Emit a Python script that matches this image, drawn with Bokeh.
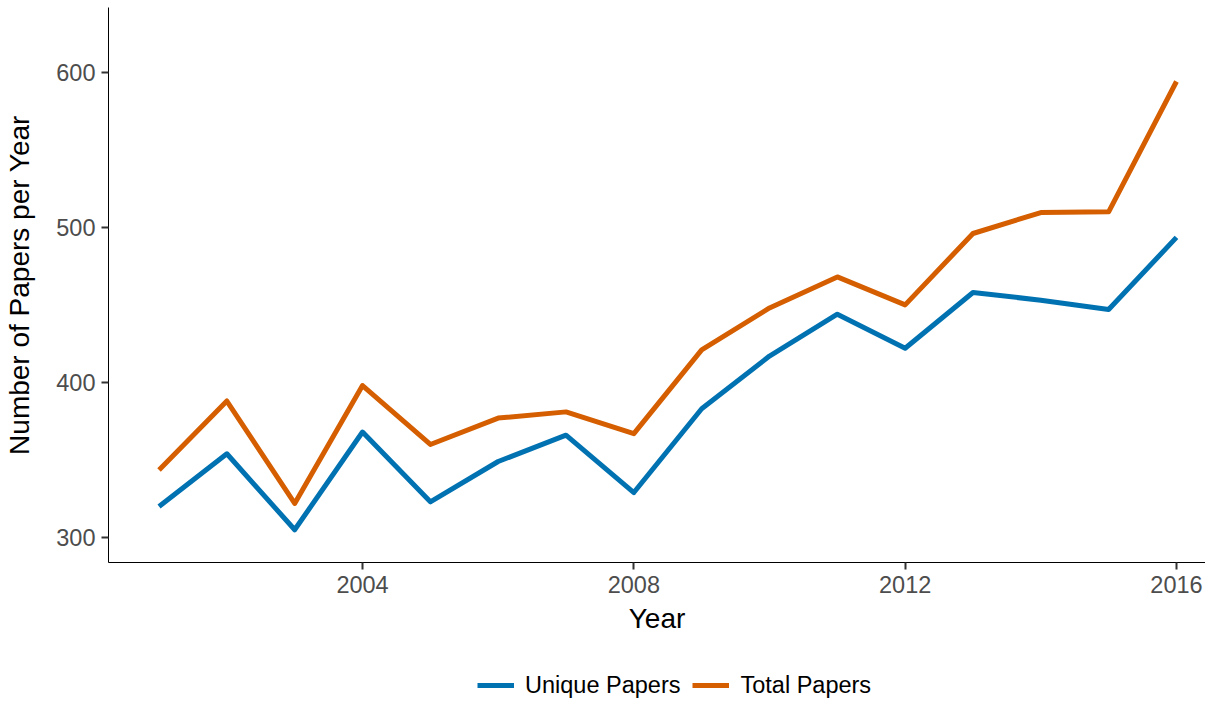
from bokeh.plotting import figure
from bokeh.layouts import column
from bokeh.models import Legend, LegendItem, FixedTicker, Range1d
from bokeh.embed import file_html
from bokeh.resources import INLINE

# ---- data ----
years = [2001, 2002, 2003, 2004, 2005, 2006, 2007, 2008,
         2009, 2010, 2011, 2012, 2013, 2014, 2015, 2016]
unique_papers = [320, 354, 305, 368, 323, 349, 366, 329,
                 383, 417, 444, 422, 458, 453, 447, 493.5]
total_papers = [343.5, 388, 322, 398, 360, 377, 381, 367,
                421, 448, 468, 450, 496, 509.5, 510, 594]
x_ticks = [2004, 2008, 2012, 2016]
y_ticks = [300, 400, 500, 600]
series_labels = ["Unique Papers", "Total Papers"]
series_colors = ["#0072B2", "#D55E00"]

FONT = "Liberation Sans"

# ---- main chart ----
p = figure(width=1205, height=640, output_backend="svg", toolbar_location=None,
           x_range=Range1d(2000.255, 2016.428), y_range=Range1d(283.9, 641.7),
           min_border_left=108, min_border_right=0, min_border_top=7,
           min_border_bottom=78, background_fill_color="white",
           border_fill_color="white")
p.outline_line_color = None
p.xgrid.visible = False
p.ygrid.visible = False

p.line(years, unique_papers, line_color=series_colors[0], line_width=5,
       line_join="round")
p.line(years, total_papers, line_color=series_colors[1], line_width=5,
       line_join="round")

p.xaxis.ticker = FixedTicker(ticks=x_ticks)
p.yaxis.ticker = FixedTicker(ticks=y_ticks)
p.xaxis.axis_label = "Year"
p.yaxis.axis_label = "Number of Papers per Year"

for ax in (p.xaxis[0], p.yaxis[0]):
    ax.axis_line_color = "black"
    ax.axis_line_width = 1
    ax.major_tick_line_color = "#333333"
    ax.major_tick_line_width = 2
    ax.major_tick_out = 7
    ax.major_tick_in = 0
    ax.minor_tick_line_color = None
    ax.major_label_text_font = FONT
    ax.major_label_text_font_size = "23.5px"
    ax.major_label_text_color = "#4D4D4D"
    ax.axis_label_text_font = FONT
    ax.axis_label_text_font_size = "28px"
    ax.axis_label_text_color = "black"
    ax.axis_label_text_font_style = "normal"

p.xaxis.major_label_standoff = 6
p.xaxis.axis_label_standoff = 7
p.yaxis.major_label_standoff = 6
p.yaxis.axis_label_standoff = 18

# ---- legend strip below the chart ----
# (the key lines reuse the series data; the strip's ranges keep them out of view)
lg = figure(width=1205, height=59, output_backend="svg", toolbar_location=None,
            x_range=Range1d(0, 1), y_range=Range1d(0, 1),
            x_axis_location=None, y_axis_location=None,
            min_border_left=0, min_border_right=0, min_border_top=0,
            min_border_bottom=0, background_fill_color="white",
            border_fill_color="white")
lg.outline_line_color = None
lg.xgrid.visible = False
lg.ygrid.visible = False
k1 = lg.line(years, unique_papers, line_color=series_colors[0], line_width=5)
k2 = lg.line(years, total_papers, line_color=series_colors[1], line_width=5)

legend = Legend(items=[LegendItem(label=series_labels[0], renderers=[k1]),
                       LegendItem(label=series_labels[1], renderers=[k2])],
                orientation="horizontal", location=(369, 0),
                glyph_width=37, glyph_height=28, label_height=28,
                label_standoff=11, spacing=12, padding=0, margin=0,
                border_line_color=None, background_fill_alpha=0,
                label_text_font=FONT, label_text_font_size="23.5px",
                label_text_color="black")
lg.add_layout(legend, "center")

layout = column(p, lg, spacing=0)
open("out.html", "w").write(file_html(layout, INLINE))
